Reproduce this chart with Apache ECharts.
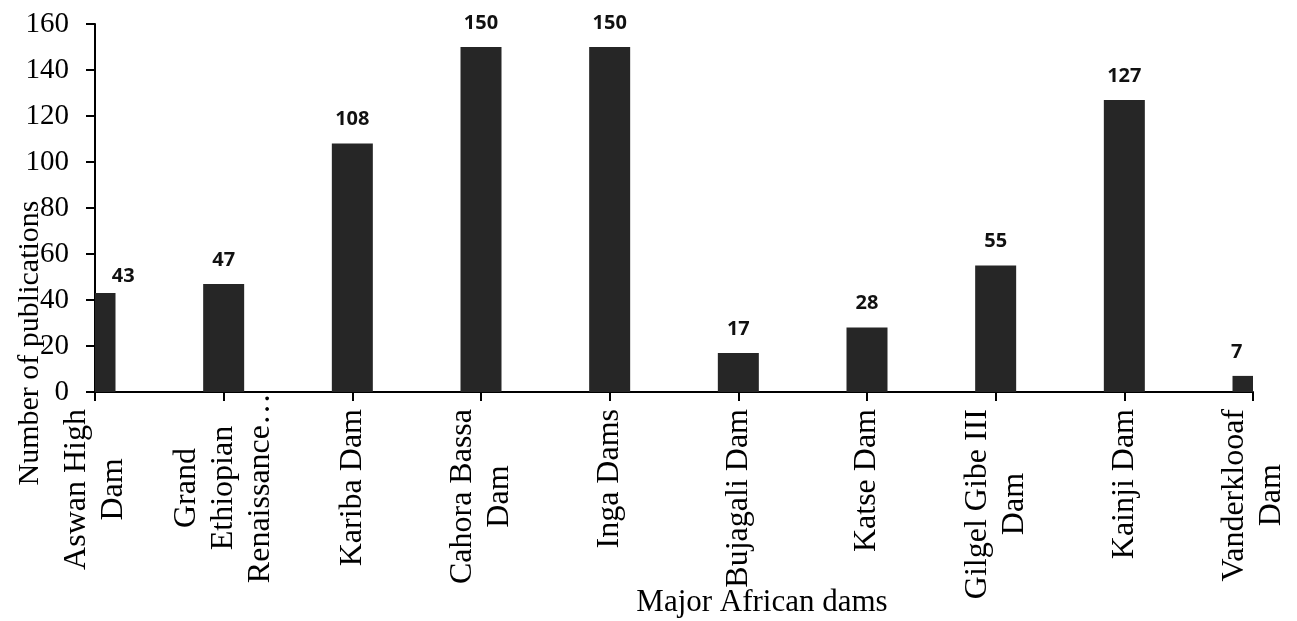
<!DOCTYPE html>
<html>
<head>
<meta charset="utf-8">
<script src="https://cdn.jsdelivr.net/npm/echarts@6/dist/echarts.min.js"></script>
<style>
  html, body { margin: 0; padding: 0; background: #fff; }
  #chart { width: 1297px; height: 621px; }
</style>
</head>
<body>
<div id="chart"></div>
<script>
const categories = [
  'Aswan High\nDam',
  'Grand\nEthiopian\nRenaissance…',
  'Kariba Dam',
  'Cahora Bassa\nDam',
  'Inga Dams',
  'Bujagali Dam',
  'Katse Dam',
  'Gilgel Gibe III\nDam',
  'Kainji Dam',
  'Vanderklooaf\nDam'
];
const publications = [43, 47, 108, 150, 150, 17, 28, 55, 127, 7];
const yTicks = { min: 0, max: 160, interval: 20 };
const xTitle = 'Major African dams';
const yTitle = 'Number of publications';

const serif = '"Liberation Serif", "Times New Roman", serif';
const BAR_W = 41;
const chart = echarts.init(document.getElementById('chart'), null, { renderer: 'canvas' });

function renderBar(params, api) {
  const idx = api.value(0);
  const val = api.value(1);
  const top = api.coord([idx, val]);
  const base = api.coord([idx, 0]);
  const cs = params.coordSys;
  const rect = echarts.graphic.clipRectByRect(
    { x: top[0] - BAR_W / 2, y: top[1], width: BAR_W, height: base[1] - top[1] },
    { x: cs.x, y: cs.y, width: cs.width, height: cs.height }
  );
  if (!rect) return null;
  let dx = 0, dy = 0;
  if (params.dataIndex === 0) { dx = 18; dy = 7; }
  if (params.dataIndex === publications.length - 1) { dx = -6; }
  return {
    type: 'group',
    children: [
      { type: 'rect', shape: rect, style: { fill: '#262626' } },
      {
        type: 'text',
        x: rect.x + rect.width / 2 + dx,
        y: top[1] - 14 + dy,
        style: {
          text: String(val),
          fill: '#111',
          font: 'bold 20px "Open Sans", sans-serif',
          align: 'center',
          verticalAlign: 'bottom'
        }
      }
    ]
  };
}

// the truncated long label overflows toward the axis in the original
const axisData = categories.map(function (c, i) {
  return i === 1 ? { value: c, textStyle: { padding: [0, -16, 0, 0] } } : c;
});

chart.setOption({
  animation: false,
  backgroundColor: '#ffffff',
  grid: { left: 95, right: 44, top: 24, bottom: 229, containLabel: false, outerBoundsMode: 'none' },
  xAxis: {
    type: 'category',
    data: axisData,
    boundaryGap: false,
    axisLine: { lineStyle: { color: '#000', width: 2 } },
    axisTick: { show: true, length: 9, lineStyle: { color: '#000', width: 2 } },
    splitLine: { show: false },
    axisLabel: {
      interval: 0,
      rotate: 90,
      margin: 17,
      color: '#000',
      fontFamily: serif,
      fontSize: 32,
      lineHeight: 37,
      formatter: function (v) {
        return v.split('\n').map(function (l) { return '{c|' + l + '}'; }).join('\n');
      },
      rich: {
        c: { align: 'center', fontFamily: serif, fontSize: 32, lineHeight: 37, color: '#000' }
      }
    }
  },
  yAxis: {
    type: 'value',
    min: yTicks.min,
    max: yTicks.max,
    interval: yTicks.interval,
    axisLine: { show: true, lineStyle: { color: '#000', width: 2 } },
    axisTick: { show: true, length: 9, lineStyle: { color: '#000', width: 2 } },
    splitLine: { show: false },
    axisLabel: { margin: 26, color: '#000', fontFamily: serif, fontSize: 29 }
  },
  series: [{
    type: 'custom',
    clip: false,
    renderItem: renderBar,
    encode: { x: 0, y: 1 },
    data: publications.map(function (v, i) { return [i, v]; })
  }],
  graphic: [
    {
      type: 'text',
      x: 30, y: 343,
      rotation: Math.PI / 2,
      style: { text: yTitle, fill: '#000', font: '30px ' + serif, align: 'center', verticalAlign: 'middle' }
    },
    {
      type: 'text',
      x: 762, y: 603,
      style: { text: xTitle, fill: '#000', font: '31px ' + serif, align: 'center', verticalAlign: 'middle' }
    }
  ]
});
</script>
</body>
</html>
